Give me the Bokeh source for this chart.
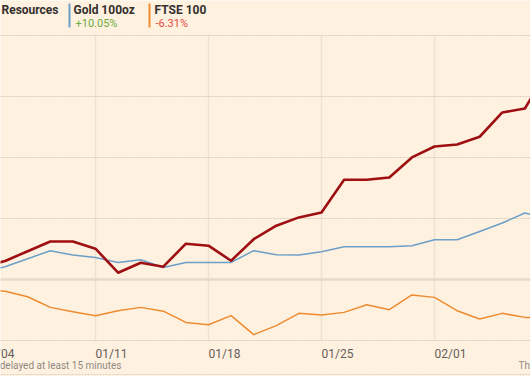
from bokeh.plotting import figure
from bokeh.models import Range1d, FixedTicker, Span, Label, BoxAnnotation, ColumnDataSource
from bokeh.embed import file_html
from bokeh.resources import INLINE

# ---- data ----
dates = ["2021-01-04", "2021-01-05", "2021-01-06", "2021-01-07", "2021-01-08",
         "2021-01-11", "2021-01-12", "2021-01-13", "2021-01-14", "2021-01-15",
         "2021-01-18", "2021-01-19", "2021-01-20", "2021-01-21", "2021-01-22",
         "2021-01-25", "2021-01-26", "2021-01-27", "2021-01-28", "2021-01-29",
         "2021-02-01", "2021-02-02", "2021-02-03", "2021-02-04", "2021-02-05",
         "2021-02-08"]
resources = [2.10, 3.03, 4.64, 6.24, 6.24, 5.05, 1.11, 2.75, 2.10, 5.87,
             5.54, 3.08, 6.60, 8.82, 10.18, 10.99, 16.35, 16.35, 16.73, 20.01,
             21.81, 22.14, 23.40, 27.38, 28.04, 34.2]
gold = [1.11, 2.10, 3.41, 4.72, 4.01, 3.62, 2.80, 3.24, 1.98, 2.80,
        2.80, 2.80, 4.72, 4.06, 4.01, 4.56, 5.37, 5.37, 5.37, 5.54,
        6.52, 6.52, 7.88, 9.26, 10.90, 10.05]
ftse = [-1.51, -1.92, -2.82, -4.57, -5.28, -5.93, -5.11, -4.57, -5.19, -7.03,
        -7.41, -5.93, -9.04, -7.57, -5.55, -5.82, -5.39, -4.13, -4.95, -2.54,
        -2.93, -5.11, -6.47, -5.55, -6.21, -6.31]
tick_dates = ["2021-01-04", "2021-01-11", "2021-01-18", "2021-01-25", "2021-02-01", "2021-02-08"]
tick_labels = ["01/04", "01/11", "01/18", "01/25", "02/01", "02/08"]
y_grid = [-10, 0, 10, 20, 30, 40]
series_names = ["Resources", "Gold 100oz", "FTSE 100"]
series_changes = ["+10.05%", "-6.31%"]

BG = "#FFF1E0"
RED = "#9E0F12"
BLUE = "#6C9FC8"
ORANGE = "#EE8B30"
FONT = "Roboto"

W, H = 530, 376
PLOT_TOP, PLOT_BOTTOM = 35, 340      # canvas pixels of the +40 / -10 levels
Y_LO, Y_HI = -10, 40
per_px = (Y_HI - Y_LO) / (PLOT_BOTTOM - PLOT_TOP)
y_start = Y_LO - (H - PLOT_BOTTOM) * per_px
y_end = Y_HI + PLOT_TOP * per_px


def sy(y_canvas):
    # screen units are measured upward from the frame bottom (= canvas bottom here)
    return H - y_canvas


idx = list(range(len(dates)))
src = ColumnDataSource(dict(x=idx, res=resources, gold=gold, ftse=ftse))

p = figure(width=W, height=H, x_range=Range1d(0.7965, 24.248), y_range=Range1d(y_start, y_end),
           output_backend="svg", toolbar_location=None,
           min_border_left=0, min_border_right=0, min_border_top=0, min_border_bottom=0,
           background_fill_color=BG, border_fill_color=BG, outline_line_color=None)
p.xaxis.visible = False
p.yaxis.visible = False
p.xgrid.visible = False

tick_idx = [dates.index(d) for d in tick_dates]
# vertical week gridlines, only over the plotting band
p.segment(x0=tick_idx, y0=[Y_LO] * len(tick_idx), x1=tick_idx, y1=[Y_HI] * len(tick_idx),
          line_color="#EEE2D2", line_width=1.5, level="underlay")

p.ygrid.ticker = FixedTicker(ticks=y_grid)
p.ygrid.grid_line_color = "#D8CDC0"
p.ygrid.grid_line_dash = "2 1"
p.ygrid.grid_line_width = 1

p.add_layout(Span(location=0, dimension="width", line_color="#E4D9CA", line_width=2.5, level="underlay"))
# footer rule
p.add_layout(Span(location=Y_LO - 34 * per_px, dimension="width", line_color="#DDD2C4",
                  line_width=1, line_dash="2 1", level="underlay"))

p.line("x", "ftse", source=src, line_color=ORANGE, line_width=1.5, line_join="round")
p.line("x", "gold", source=src, line_color=BLUE, line_width=1.5, line_join="round")
p.line("x", "res", source=src, line_color=RED, line_width=2.6, line_join="round")

# x tick labels (left aligned at gridline, FT style)
for t, lab in zip(tick_idx, tick_labels):
    p.add_layout(Label(x=t, y=sy(346), y_units="screen", text=lab, text_font=FONT,
                       text_font_size="12px", text_color="#66605C",
                       text_align="left", text_baseline="top"))

# footer
p.add_layout(Label(x=121, y=sy(359), x_units="screen", y_units="screen",
                   text="Data delayed at least 15 minutes", text_font=FONT,
                   text_font_size="10px", text_color="#8F8984",
                   text_align="right", text_baseline="top"))
p.add_layout(Label(x=518, y=sy(359), x_units="screen", y_units="screen",
                   text="Thomson Reuters", text_font=FONT,
                   text_font_size="10px", text_color="#8F8984",
                   text_align="left", text_baseline="top"))

# header
p.add_layout(Label(x=58, y=sy(2), x_units="screen", y_units="screen",
                   text=series_names[0], text_font=FONT, text_font_style="bold",
                   text_font_size="12px", text_color="#33302E",
                   text_align="right", text_baseline="top"))
p.add_layout(BoxAnnotation(left=68, right=70, top=sy(3), bottom=sy(27),
                           left_units="screen", right_units="screen",
                           top_units="screen", bottom_units="screen",
                           fill_color=BLUE, fill_alpha=1, line_color=None))
p.add_layout(Label(x=73, y=sy(2), x_units="screen", y_units="screen",
                   text=series_names[1], text_font=FONT, text_font_style="bold",
                   text_font_size="12px", text_color="#33302E",
                   text_align="left", text_baseline="top"))
p.add_layout(Label(x=75, y=sy(16), x_units="screen", y_units="screen",
                   text=series_changes[0], text_font=FONT,
                   text_font_size="11px", text_color="#6AAB3D",
                   text_align="left", text_baseline="top"))
p.add_layout(BoxAnnotation(left=148, right=150, top=sy(3), bottom=sy(27),
                           left_units="screen", right_units="screen",
                           top_units="screen", bottom_units="screen",
                           fill_color=ORANGE, fill_alpha=1, line_color=None))
p.add_layout(Label(x=154, y=sy(2), x_units="screen", y_units="screen",
                   text=series_names[2], text_font=FONT, text_font_style="bold",
                   text_font_size="12px", text_color="#33302E",
                   text_align="left", text_baseline="top"))
p.add_layout(Label(x=155, y=sy(16), x_units="screen", y_units="screen",
                   text=series_changes[1], text_font=FONT,
                   text_font_size="11px", text_color="#E5493A",
                   text_align="left", text_baseline="top"))

open("out.html", "w").write(file_html(p, INLINE))
